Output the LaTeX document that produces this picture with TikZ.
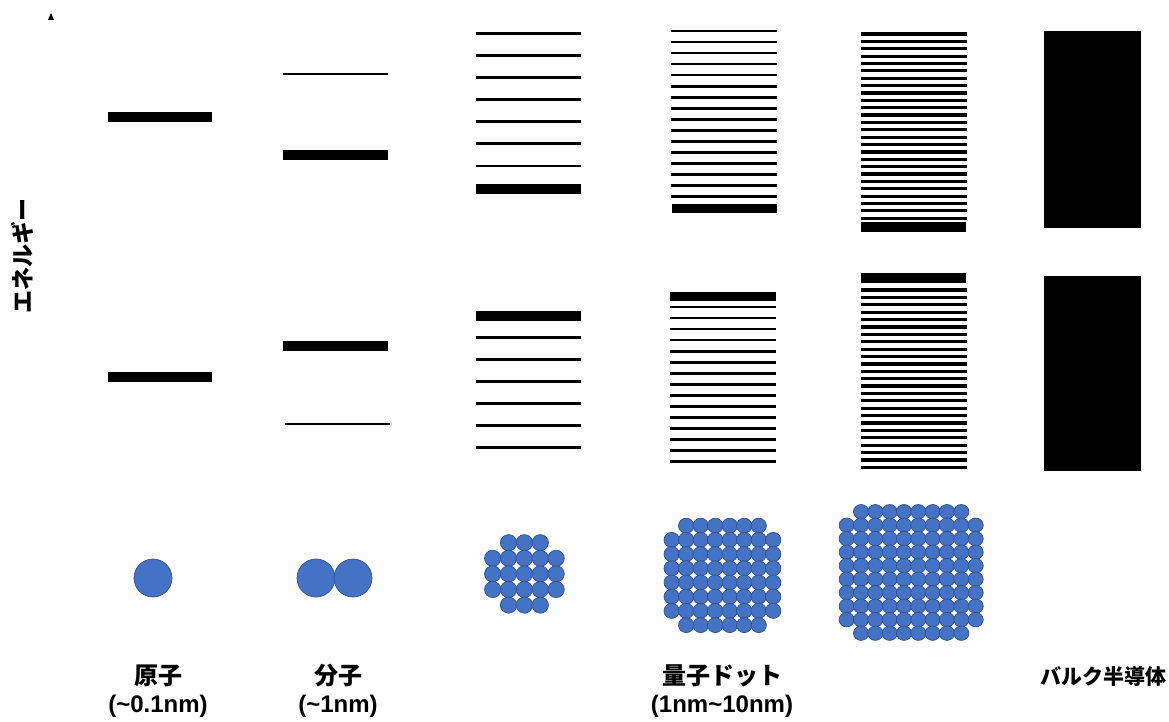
\documentclass[tikz,border=0pt]{standalone}
\usepackage{fontspec}
\setmainfont{Liberation Sans}
\newfontfamily\jp{Noto Sans CJK JP}
\definecolor{dotfill}{HTML}{4472C4}
\definecolor{dotedge}{HTML}{2F528F}
\begin{document}
\begin{tikzpicture}[x=1pt,y=-1pt,
  lvl/.style={line width=2.6pt},
  dense lvl/.style={line width=3.2pt},
  thin lvl/.style={line width=2pt},
  band/.style={fill=black},
  atom/.style={fill=dotfill,draw=dotedge,line width=0.7pt},
  jplabel/.style={font=\jp\bfseries\fontsize{24}{28}\selectfont,inner sep=0pt},
  latlabel/.style={font=\bfseries\fontsize{24}{28}\selectfont,inner sep=0pt}]
\useasboundingbox (0,0) rectangle (1169,722);
% axis arrow tip
\fill (48,20) -- (54,20) -- (51,13) -- cycle;
\node[jplabel,font=\jp\bfseries\fontsize{23}{26}\selectfont,rotate=90] (energy) at (22,256) {エネルギー};
% column 1: atom
\fill[band] (108,112) rectangle (212,122);
\fill[band] (108,372) rectangle (212,382);
% column 2: molecule
\draw[thin lvl] (283,74) -- (388,74);
\fill[band] (283,150) rectangle (388,160);
\fill[band] (283,341) rectangle (388,351);
\draw[thin lvl] (285,424) -- (390,424);
% column 3
\foreach \i in {0,...,6} \draw[lvl] (476,{33.3+22.1*\i}) -- (581,{33.3+22.1*\i});
\fill[band] (476,184.3) rectangle (581,193.7);
\fill[band] (476,311) rectangle (581,320.7);
\foreach \i in {0,...,5} \draw[lvl] (476,{337.3+22.08*\i}) -- (581,{337.3+22.08*\i});
% column 4
\foreach \i in {0,...,15} \draw[lvl] (671,{31+11.05*\i}) -- (777,{31+11.05*\i});
\fill[band] (672,204) rectangle (777,213.3);
\fill[band] (670,291.7) rectangle (776,301);
\foreach \i in {0,...,14} \draw[lvl] (670,{307+11.05*\i}) -- (776,{307+11.05*\i});
% column 5
\foreach \i in {0,...,25} \draw[dense lvl] (861,{34+7.37*\i}) -- (967,{34+7.37*\i});
\fill[band] (861,221.7) rectangle (966,231.7);
\fill[band] (861,272.7) rectangle (966,283.3);
\foreach \i in {0,...,24} \draw[dense lvl] (861,{290+7.39*\i}) -- (967,{290+7.39*\i});
% column 6: bulk
\fill[band] (1044,31) rectangle (1141,228);
\fill[band] (1044,276) rectangle (1141,471);
% atoms
\draw[atom] (153,578) circle (19);
\draw[atom] (316,578) circle (19);
\draw[atom] (353,578) circle (19);
% cluster 3
\foreach \i in {0,...,4}{
  \foreach \j in {0,...,4}{
    \pgfmathtruncatemacro\skip{((\i==0 || \i==4) && (\j==0 || \j==4)) ? 1 : 0}
    \ifnum\skip=0
      \draw[atom] ({492.7+15.85*\j},{542.7+15.6*\i}) ellipse (8.2 and 8.1);
    \fi
  }
}
% cluster 4
\foreach \i in {0,...,7}{
  \foreach \j in {0,...,7}{
    \pgfmathtruncatemacro\skip{((\i==0 || \i==7) && (\j==0 || \j==7)) ? 1 : 0}
    \ifnum\skip=0
      \draw[atom] ({671.7+14.5*\j},{525.7+14.2*\i}) ellipse (7.7 and 7.5);
    \fi
  }
}
% cluster 5
\foreach \i in {0,...,9}{
  \foreach \j in {0,...,9}{
    \pgfmathtruncatemacro\skip{((\i==0 || \i==9) && (\j==0 || \j==9)) ? 1 : 0}
    \ifnum\skip=0
      \draw[atom] ({846.7+14.33*\j},{511.7+13.5*\i}) ellipse (7.6 and 7.2);
    \fi
  }
}
% labels
\node[jplabel] (l1a) at (158,676) {原子};
\node[latlabel] (l1b) at (158,706) {(\textasciitilde0.1nm)};
\node[jplabel] (l2a) at (338,676) {分子};
\node[latlabel] (l2b) at (338,706) {(\textasciitilde1nm)};
\node[jplabel] (l3a) at (722,676) {量子ドット};
\node[latlabel] (l3b) at (722,706) {(1nm\textasciitilde10nm)};
\node[jplabel,font=\jp\bfseries\fontsize{21}{26}\selectfont] (l4a) at (1103,676) {バルク半導体};
\end{tikzpicture}
\end{document}
